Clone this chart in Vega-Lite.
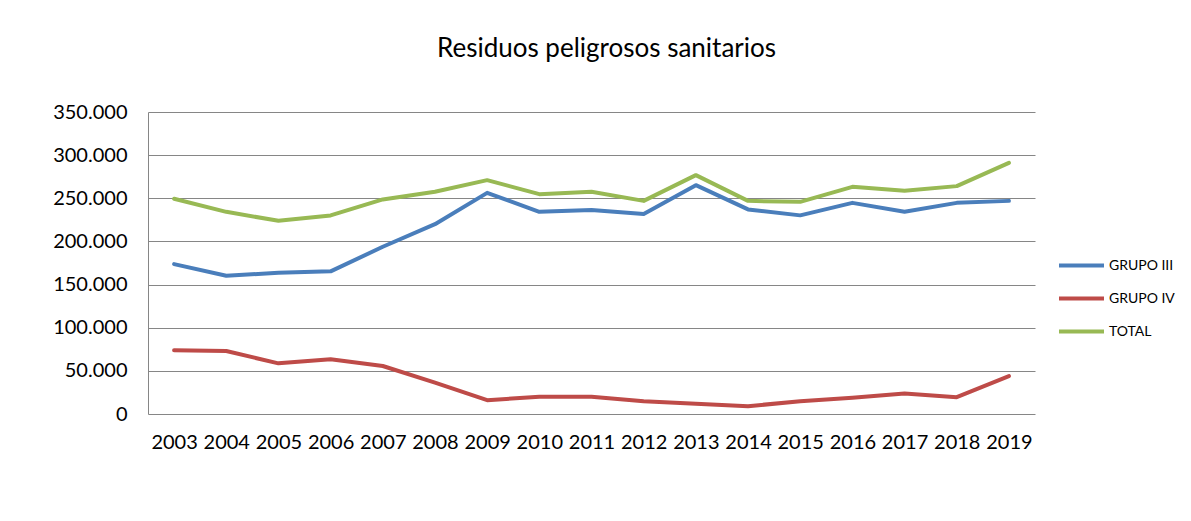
{
  "$schema": "https://vega.github.io/schema/vega-lite/v6.json",
  "width": 887,
  "height": 302,
  "autosize": {"type": "none"},
  "padding": {"left": 148, "top": 112, "right": 156, "bottom": 107},
  "background": "white",
  "config": {
    "locale": {"number": {"decimal": ",", "thousands": ".", "grouping": [3], "currency": ["", "€"]}},
    "font": "Lato",
    "view": {"stroke": null}
  },
  "title": {
    "text": "Residuos peligrosos sanitarios",
    "font": "Lato",
    "fontSize": 26,
    "fontWeight": "normal",
    "color": "#000000",
    "anchor": "middle",
    "dx": 15,
    "offset": 40
  },
  "data": {"values": [
    {"year": "2003", "serie": "GRUPO III", "value": 173700},
    {"year": "2004", "serie": "GRUPO III", "value": 160200},
    {"year": "2005", "serie": "GRUPO III", "value": 163700},
    {"year": "2006", "serie": "GRUPO III", "value": 165300},
    {"year": "2007", "serie": "GRUPO III", "value": 193800},
    {"year": "2008", "serie": "GRUPO III", "value": 220000},
    {"year": "2009", "serie": "GRUPO III", "value": 256300},
    {"year": "2010", "serie": "GRUPO III", "value": 234300},
    {"year": "2011", "serie": "GRUPO III", "value": 236300},
    {"year": "2012", "serie": "GRUPO III", "value": 231700},
    {"year": "2013", "serie": "GRUPO III", "value": 265200},
    {"year": "2014", "serie": "GRUPO III", "value": 237100},
    {"year": "2015", "serie": "GRUPO III", "value": 230200},
    {"year": "2016", "serie": "GRUPO III", "value": 244700},
    {"year": "2017", "serie": "GRUPO III", "value": 234300},
    {"year": "2018", "serie": "GRUPO III", "value": 244700},
    {"year": "2019", "serie": "GRUPO III", "value": 247000},
    {"year": "2003", "serie": "GRUPO IV", "value": 73800},
    {"year": "2004", "serie": "GRUPO IV", "value": 73000},
    {"year": "2005", "serie": "GRUPO IV", "value": 58700},
    {"year": "2006", "serie": "GRUPO IV", "value": 63400},
    {"year": "2007", "serie": "GRUPO IV", "value": 55600},
    {"year": "2008", "serie": "GRUPO IV", "value": 36300},
    {"year": "2009", "serie": "GRUPO IV", "value": 16000},
    {"year": "2010", "serie": "GRUPO IV", "value": 20000},
    {"year": "2011", "serie": "GRUPO IV", "value": 20000},
    {"year": "2012", "serie": "GRUPO IV", "value": 14900},
    {"year": "2013", "serie": "GRUPO IV", "value": 11900},
    {"year": "2014", "serie": "GRUPO IV", "value": 9000},
    {"year": "2015", "serie": "GRUPO IV", "value": 14900},
    {"year": "2016", "serie": "GRUPO IV", "value": 18800},
    {"year": "2017", "serie": "GRUPO IV", "value": 23800},
    {"year": "2018", "serie": "GRUPO IV", "value": 19500},
    {"year": "2019", "serie": "GRUPO IV", "value": 44000},
    {"year": "2003", "serie": "TOTAL", "value": 249400},
    {"year": "2004", "serie": "TOTAL", "value": 234300},
    {"year": "2005", "serie": "TOTAL", "value": 223900},
    {"year": "2006", "serie": "TOTAL", "value": 230100},
    {"year": "2007", "serie": "TOTAL", "value": 248700},
    {"year": "2008", "serie": "TOTAL", "value": 257500},
    {"year": "2009", "serie": "TOTAL", "value": 271000},
    {"year": "2010", "serie": "TOTAL", "value": 254800},
    {"year": "2011", "serie": "TOTAL", "value": 257500},
    {"year": "2012", "serie": "TOTAL", "value": 247000},
    {"year": "2013", "serie": "TOTAL", "value": 276800},
    {"year": "2014", "serie": "TOTAL", "value": 247000},
    {"year": "2015", "serie": "TOTAL", "value": 245900},
    {"year": "2016", "serie": "TOTAL", "value": 263300},
    {"year": "2017", "serie": "TOTAL", "value": 258600},
    {"year": "2018", "serie": "TOTAL", "value": 264100},
    {"year": "2019", "serie": "TOTAL", "value": 291100}
  ]},
  "mark": {"type": "line", "strokeWidth": 4, "strokeCap": "round", "strokeJoin": "round"},
  "encoding": {
    "x": {
      "field": "year",
      "type": "ordinal",
      "scale": {"type": "point", "padding": 0.5},
      "axis": {
        "title": null,
        "labelAngle": 0,
        "labelFont": "Lato",
        "labelFontSize": 20,
        "labelColor": "#000000",
        "labelPadding": 18,
        "ticks": false,
        "domain": false,
        "grid": false
      }
    },
    "y": {
      "field": "value",
      "type": "quantitative",
      "scale": {"domain": [0, 350000], "nice": false},
      "axis": {
        "title": null,
        "values": [0, 50000, 100000, 150000, 200000, 250000, 300000, 350000],
        "format": ",.0f",
        "labelFont": "Lato",
        "labelFontSize": 20,
        "labelColor": "#000000",
        "labelPadding": 21,
        "ticks": false,
        "domain": true,
        "domainColor": "#868686",
        "domainWidth": 1,
        "grid": true,
        "gridColor": "#868686",
        "gridWidth": 1
      }
    },
    "color": {
      "field": "serie",
      "type": "nominal",
      "scale": {"domain": ["GRUPO III", "GRUPO IV", "TOTAL"], "range": ["#4A7EBB", "#BE4B48", "#98B954"]},
      "legend": {
        "title": null,
        "orient": "none",
        "legendX": 909,
        "legendY": 129,
        "symbolType": "stroke",
        "symbolSize": 2025,
        "symbolStrokeWidth": 4,
        "labelFont": "Lato",
        "labelFontSize": 14,
        "labelColor": "#000000",
        "labelOffset": 3,
        "rowPadding": -8
      }
    }
  }
}
